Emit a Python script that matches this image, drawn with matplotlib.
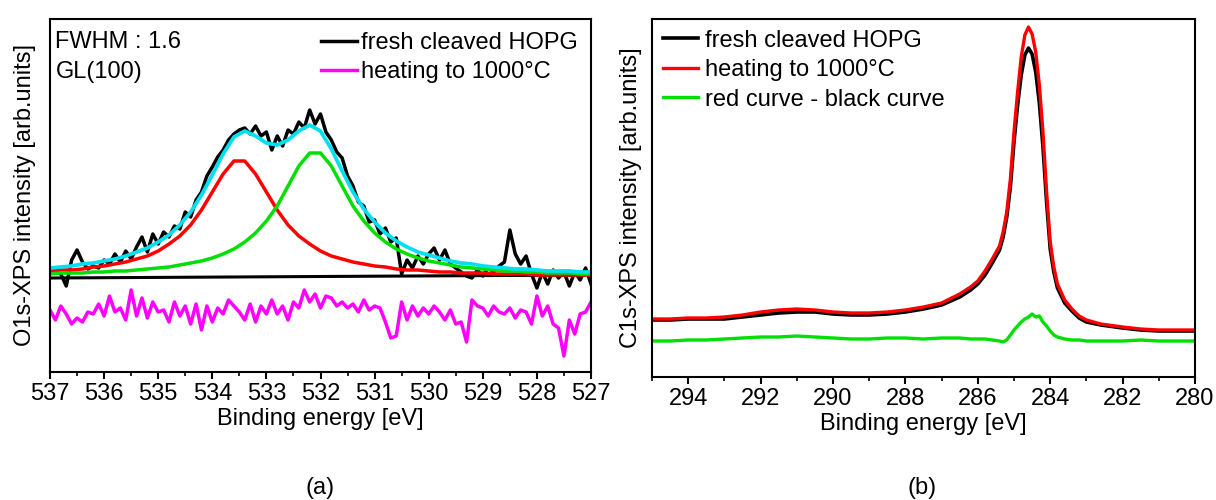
import numpy as np
import matplotlib
matplotlib.use("Agg")
import matplotlib.pyplot as plt
from matplotlib.ticker import MultipleLocator

plt.rcParams['font.family'] = ['Liberation Sans', 'DejaVu Sans']

# ---------------- (a) O1s ----------------
# measured spectra, 0.1 eV steps from 537 to 527 eV
o1s_energy = np.round(np.arange(537.0, 526.95, -0.1), 1)
o1s_fresh = [100, 101, 98, 86, 112, 122, 110, 103, 106, 104,
             112, 108, 118, 110, 121, 113, 125, 135, 120, 138,
             128, 140, 135, 146, 143, 160, 155, 172, 180, 196,
             205, 215, 222, 232, 238, 242, 244, 238, 246, 236,
             240, 222, 236, 226, 242, 238, 250, 244, 262, 248,
             258, 240, 232, 220, 214, 196, 186, 170, 166, 150,
             152, 138, 144, 130, 134, 98, 112, 104, 116, 108,
             118, 124, 112, 122, 108, 104, 100, 96, 94, 102,
             96, 104, 100, 106, 110, 142, 118, 108, 116, 98,
             84, 100, 88, 102, 94, 100, 86, 100, 92, 104,
             88]
o1s_heated = [62, 52, 66, 58, 48, 54, 50, 60, 58, 68,
              56, 76, 60, 64, 52, 82, 56, 74, 54, 70,
              60, 62, 50, 70, 56, 66, 48, 68, 42, 66,
              50, 64, 58, 72, 66, 60, 52, 68, 50, 66,
              58, 72, 58, 66, 52, 70, 64, 82, 70, 78,
              64, 76, 74, 66, 70, 64, 68, 60, 72, 62,
              66, 64, 50, 34, 36, 70, 52, 66, 56, 64,
              58, 66, 60, 52, 62, 48, 50, 30, 72, 66,
              64, 56, 66, 60, 58, 64, 54, 62, 60, 48,
              76, 56, 66, 48, 44, 16, 52, 38, 58, 60,
              70]

# fit components, 0.2 eV steps
fit_energy = np.round(np.arange(537.0, 526.95, -0.2), 1)
fit_peak1 = [101, 102, 102, 103, 105, 106, 108, 110, 113, 116,
             121, 128, 136, 147, 162, 180, 198, 211, 211, 198,
             180, 162, 147, 136, 128, 121, 116, 113, 110, 108,
             106, 105, 103, 102, 102, 101, 100, 100, 99, 99,
             99, 98, 98, 98, 98, 97, 97, 97, 97, 97,
             97]
fit_peak2 = [98, 99, 99, 99, 100, 100, 101, 101, 102, 103,
             104, 105, 107, 109, 111, 114, 118, 123, 130, 139,
             151, 166, 186, 206, 219, 219, 206, 186, 166, 151,
             139, 130, 123, 118, 114, 111, 109, 107, 105, 104,
             103, 102, 101, 101, 100, 100, 99, 99, 99, 98,
             98]
fit_envelope = [104, 105, 106, 108, 109, 111, 113, 116, 120, 124,
                130, 137, 147, 160, 177, 197, 218, 235, 241, 236,
                229, 227, 232, 241, 247, 241, 223, 201, 180, 163,
                150, 139, 131, 125, 120, 117, 114, 111, 109, 108,
                106, 105, 104, 103, 103, 102, 101, 101, 101, 100,
                100]
bg_energy = [537.0, 527.0]
bg_level = [94, 97]

# ---------------- (b) C1s ----------------
c1s_energy = [295.0, 294.5, 294.0, 293.5, 293.0, 292.5, 292.0, 291.5, 291.0, 290.5,
              290.0, 289.5, 289.0, 288.5, 288.0, 287.5, 287.0, 286.5, 286.2, 286.0,
              285.8, 285.6, 285.4, 285.3, 285.2, 285.1, 285.0, 284.9, 284.8, 284.7,
              284.6, 284.5, 284.4, 284.3, 284.2, 284.1, 284.0, 283.9, 283.8, 283.6,
              283.4, 283.2, 283.0, 282.6, 282.0, 281.5, 281.0, 280.5, 280.0]
c1s_fresh = [57, 57, 58, 58, 58, 60, 62, 64, 65, 65,
             63, 62, 62, 63, 65, 68, 72, 80, 87, 93,
             102, 114, 127, 140, 160, 190, 235, 272, 302, 322,
             329, 323, 305, 274, 230, 175, 128, 105, 89, 74,
             66, 59, 55, 52, 49, 47, 46, 46, 46]
c1s_heated = [58, 58, 59, 59, 60, 62, 65, 67, 68, 67,
              65, 64, 64, 65, 67, 70, 74, 83, 90, 96,
              106, 118, 131, 145, 165, 198, 245, 285, 320, 342,
              350, 343, 325, 292, 245, 185, 135, 110, 93, 77,
              68, 61, 57, 53, 50, 48, 47, 47, 47]
c1s_diff = [36, 36, 37, 37, 38, 39, 40, 40, 41, 40,
            39, 38, 38, 39, 39, 38, 39, 39, 38, 38,
            38, 37, 36, 35, 37, 42, 47, 51, 55, 58,
            60, 63, 60, 61, 55, 51, 46, 42, 40, 38,
            37, 37, 36, 36, 36, 37, 36, 36, 36]

FS = 17

fig = plt.figure(figsize=(12.16, 5.0), dpi=100)
ax1 = fig.add_axes([50 / 1216, 1 - 372 / 500, 541 / 1216, 353 / 500])
ax2 = fig.add_axes([652 / 1216, 1 - 377 / 500, 543 / 1216, 358 / 500])

ax1.plot(bg_energy, bg_level, color='black', lw=2.2)
ax1.plot(o1s_energy, o1s_fresh, color='black', lw=2.5, label='fresh cleaved HOPG')
ax1.plot(fit_energy, fit_peak1, color='#ff0000', lw=2.5)
ax1.plot(fit_energy, fit_peak2, color='#00e000', lw=2.5)
ax1.plot(fit_energy, fit_envelope, color='#00e0f0', lw=2.7)
ax1.plot(o1s_energy, o1s_heated, color='#ff00ff', lw=2.5, label='heating to 1000°C')
ax1.set_xlim(537, 527)
ax1.set_ylim(0, 353)
ax1.xaxis.set_major_locator(MultipleLocator(1))
ax1.xaxis.set_minor_locator(MultipleLocator(0.5))
ax1.set_xlabel('Binding energy [eV]', fontsize=FS, labelpad=2)
ax1.set_ylabel('O1s-XPS intensity [arb.units]', fontsize=FS, labelpad=10)
ax1.text(0.01, 0.965, 'FWHM : 1.6\nGL(100)', transform=ax1.transAxes,
         fontsize=FS, va='top', ha='left', linespacing=1.45)
ax1.legend(loc='upper right', frameon=False, fontsize=FS, handlelength=1.5,
           handletextpad=0.2, labelspacing=0.3, borderaxespad=0.15)

ax2.plot(c1s_energy, c1s_fresh, color='black', lw=2.6, label='fresh cleaved HOPG')
ax2.plot(c1s_energy, c1s_heated, color='#ff0000', lw=2.4, label='heating to 1000°C')
ax2.plot(c1s_energy, c1s_diff, color='#00e000', lw=2.4, label='red curve - black curve')
ax2.set_xlim(295, 280)
ax2.set_ylim(0, 358)
ax2.xaxis.set_major_locator(MultipleLocator(2))
ax2.xaxis.set_minor_locator(MultipleLocator(1))
ax2.set_xlabel('Binding energy [eV]', fontsize=FS, labelpad=2)
ax2.set_ylabel('C1s-XPS intensity [arb.units]', fontsize=FS, labelpad=7)
ax2.legend(loc='upper left', frameon=False, fontsize=FS, handlelength=1.5,
           handletextpad=0.3, labelspacing=0.32, borderaxespad=0.0,
           borderpad=0.45)

for ax in (ax1, ax2):
    ax.set_yticks([])
    for s in ax.spines.values():
        s.set_linewidth(1.5)
    ax.tick_params(axis='x', which='major', direction='out', length=5, width=1.5,
                   labelsize=FS, pad=3)
    ax.tick_params(axis='x', which='minor', direction='out', length=3, width=1.2)

fig.text(320 / 1216, 1 - 488 / 500, '(a)', ha='center', va='center', fontsize=FS)
fig.text(922 / 1216, 1 - 488 / 500, '(b)', ha='center', va='center', fontsize=FS)

fig.savefig('out.png', dpi=100)
